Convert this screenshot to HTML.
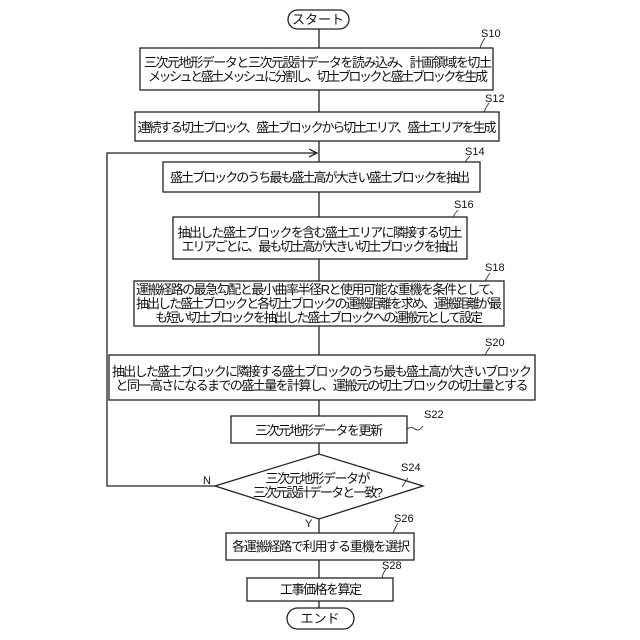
<!DOCTYPE html>
<html><head><meta charset="utf-8"><style>html,body{margin:0;padding:0;background:#fff}svg{display:block}text{font-family:"Liberation Sans","Noto Sans CJK JP",sans-serif;font-size:13px;fill:#111}.s{font-size:11px}</style></head><body>
<svg width="640" height="640" viewBox="0 0 640 640" xmlns="http://www.w3.org/2000/svg">
<defs><marker id="a" markerWidth="8" markerHeight="8" refX="6" refY="3" orient="auto"><path d="M0,0 L6,3 L0,6" fill="none" stroke="#222" stroke-width="1"/></marker></defs>
<g stroke="#222" stroke-width="1.3" fill="none">
<line x1="319" y1="29" x2="319" y2="608"/>
<polyline points="215,486 107,486 107,153 317,153" marker-end="url(#a)"/>
<g fill="#fff">
<rect x="288" y="10" width="61" height="19" rx="9.5"/>
<rect x="140" y="48" width="353" height="42"/>
<rect x="135" y="112" width="364" height="29"/>
<rect x="163" y="162" width="317" height="30"/>
<rect x="173" y="217" width="294" height="42"/>
<rect x="134" y="281" width="370" height="45"/>
<rect x="109" y="355" width="426" height="45"/>
<rect x="231" y="416" width="176" height="27"/>
<polygon points="215,486 319,454 423,486 319,519"/>
<rect x="226" y="533" width="188" height="27"/>
<rect x="247" y="578" width="146" height="23"/>
<rect x="287" y="608" width="67" height="21" rx="10.5"/>
</g>
<g stroke-width="0.8">
<path d="M485,38 q-3,4 -5,10"/><path d="M489,103 q-3,4 -5,9"/><path d="M470,156 q-3,3 -5,6"/><path d="M458,210 q-3,3 -5,7"/><path d="M490,273 q-3,4 -5,8"/><path d="M490,347 q-3,4 -5,8"/><path d="M407,429 q4,-3 8,0 q4,3 8,-3"/><path d="M408,478 q-3,4 -6,9"/><path d="M398,523 q-3,5 -5,10"/><path d="M386,569 q-3,4 -4,9"/>
</g>
</g>
<g text-anchor="middle">
<text x="318" y="24">スタート</text>
<text x="318" y="67" textLength="348">三次元地形データと三次元設計データを読み込み、計画領域を切土</text>
<text x="318" y="81" textLength="340">メッシュと盛土メッシュに分割し、切土ブロックと盛土ブロックを生成</text>
<text x="317" y="132" textLength="359">連続する切土ブロック、盛土ブロックから切土エリア、盛土エリアを生成</text>
<text x="320" y="182" textLength="300">盛土ブロックのうち最も盛土高が大きい盛土ブロックを抽出</text>
<text x="320" y="237" textLength="285">抽出した盛土ブロックを含む盛土エリアに隣接する切土</text>
<text x="320" y="251" textLength="277">エリアごとに、最も切土高が大きい切土ブロックを抽出</text>
<text x="319" y="294" textLength="366">運搬経路の最急勾配と最小曲率半径Rと使用可能な重機を条件として、</text>
<text x="319" y="308" textLength="366">抽出した盛土ブロックと各切土ブロックの運搬距離を求め、運搬距離が最</text>
<text x="319" y="322" textLength="328">も短い切土ブロックを抽出した盛土ブロックへの運搬元として設定</text>
<text x="322" y="376" textLength="420">抽出した盛土ブロックに隣接する盛土ブロックのうち最も盛土高が大きいブロック</text>
<text x="322" y="390" textLength="413">と同一高さになるまでの盛土量を計算し、運搬元の切土ブロックの切土量とする</text>
<text x="319" y="435" textLength="128">三次元地形データを更新</text>
<text x="318" y="483" textLength="105">三次元地形データが</text>
<text x="318" y="497" textLength="130">三次元設計データと一致?</text>
<text x="321" y="551" textLength="178">各運搬経路で利用する重機を選択</text>
<text x="321" y="594" textLength="82">工事価格を算定</text>
<text x="320" y="623">エンド</text>
</g>
<g class="s">
<text class="s" x="481" y="37">S10</text>
<text class="s" x="485" y="102">S12</text>
<text class="s" x="465" y="155">S14</text>
<text class="s" x="454" y="208">S16</text>
<text class="s" x="485" y="271">S18</text>
<text class="s" x="485" y="346">S20</text>
<text class="s" x="424" y="418">S22</text>
<text class="s" x="401" y="471">S24</text>
<text class="s" x="394" y="522">S26</text>
<text class="s" x="382" y="569">S28</text>
<text class="s" x="203" y="484">N</text>
<text class="s" x="305" y="527">Y</text>
</g>
</svg>
</body></html>
